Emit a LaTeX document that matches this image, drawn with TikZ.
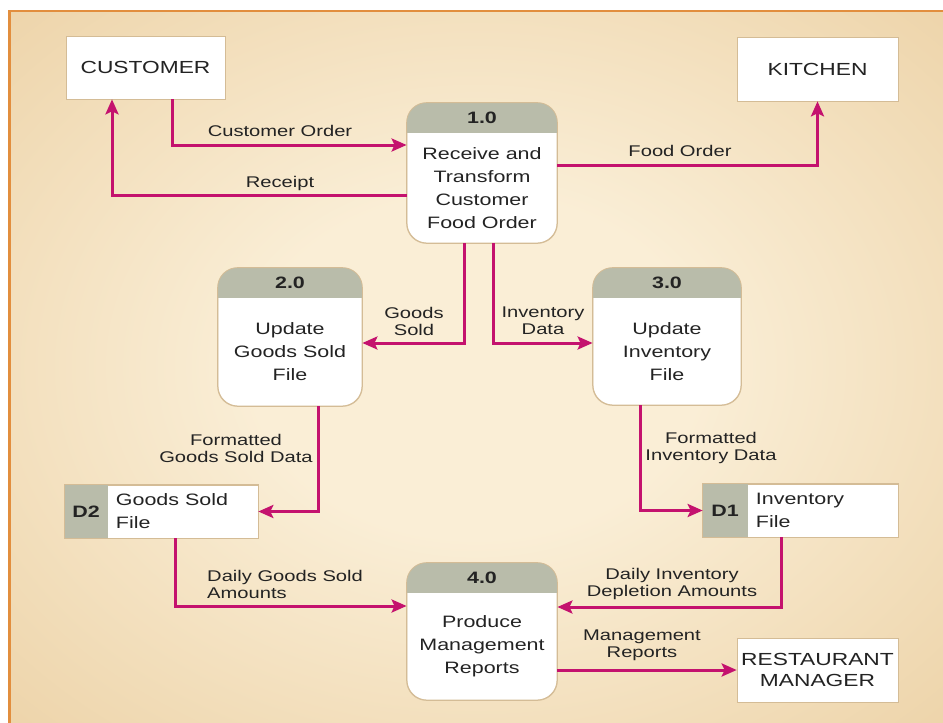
\documentclass[tikz,border=0pt]{standalone}
\usepackage{fontspec}
\setmainfont{Liberation Sans}[FakeStretch=1.3]
\usetikzlibrary{arrows.meta,calc}

\definecolor{flowc}{RGB}{196,18,110}
\definecolor{hdrc}{RGB}{185,188,170}
\definecolor{edgec}{RGB}{212,188,150}
\definecolor{inkc}{RGB}{35,35,35}
\definecolor{bgin}{RGB}{250,238,214}
\definecolor{bgout}{RGB}{227,191,134}
\definecolor{framec}{RGB}{226,142,62}

\pgfdeclareradialshading{bgglow}{\pgfpoint{0bp}{0bp}}{color(0bp)=(bgin); color(12bp)=(bgin); color(55bp)=(bgout); color(75bp)=(bgout)}

\tikzset{
  entity/.style={draw=edgec, line width=0.6pt, fill=white, minimum width=161pt,
    minimum height=64pt, font=\fontsize{17.5}{21}\selectfont, text=inkc,
    align=center, inner sep=0pt},
  procbox/.style={draw=edgec, line width=0.8pt, fill=white, rounded corners=20pt, inner sep=0pt},
  proctext/.style={font=\fontsize{16.5}{23}\selectfont, text=inkc, align=center, inner sep=0pt},
  prochead/.style={font=\bfseries\fontsize{16.5}{20}\selectfont, text=inkc, inner sep=0pt},
  storebox/.style={draw=edgec, line width=0.6pt, fill=white, inner sep=0pt},
  flow/.style={draw=flowc, line width=3pt, -{Stealth[length=15pt,width=13pt,inset=3pt]}},
  lbl/.style={font=\fontsize{15.5}{17}\selectfont, text=inkc, align=center, inner sep=0pt},
}

% process: name, cx, cy, width, height, number, text
\newcommand\dfdproc[7]{%
  \node[procbox, minimum width=#4pt, minimum height=#5pt] (#1) at (#2,#3) {};
  \begin{scope}
    \clip[rounded corners=20pt] (#1.north west) rectangle (#1.south east);
    \fill[hdrc] (#1.north west) rectangle ([yshift=-30pt]#1.north east);
  \end{scope}
  \draw[edgec, line width=0.8pt, rounded corners=20pt] (#1.north west) rectangle (#1.south east);
  \node[prochead] (#1h) at ([yshift=-15pt]#1.north) {#6};
  \node[proctext] (#1t) at ($(#1.south)!0.5!([yshift=-30pt]#1.north)$) {#7};
}

% data store: name, cx, cy, width, height, id cell width, id, text
\newcommand\dfdstore[8]{%
  \node[storebox, minimum width=#4pt, minimum height=#5pt] (#1) at (#2,#3) {};
  \fill[hdrc] (#1.north west) rectangle ([xshift=#6pt]#1.south west);
  \draw[edgec, line width=0.6pt] (#1.north west) rectangle (#1.south east);
  \node[prochead] (#1h) at ($(#1.north west)!0.5!([xshift=#6pt]#1.south west)$) {#7};
  \node[proctext, align=left, anchor=west] (#1t) at ([xshift=#6pt+8pt]#1.west) {#8};
}

\begin{document}
\begin{tikzpicture}[x=1pt, y=-1pt]
  \useasboundingbox (0,0) rectangle (943,723);
  % page and backdrop
  \fill[white] (0,0) rectangle (943,723);
  \shade[shading=bgglow] (8,10) rectangle (943,723);
  \draw[framec, line width=2.5pt] (9.5,723) -- (9.5,11) -- (943,11);

  % external entities
  \node[entity, minimum width=159pt, minimum height=63pt] (cust) at (145.5,67.5) {CUSTOMER};
  \node[entity] (kit) at (817.5,69) {KITCHEN};
  \node[entity] (rm) at (817.5,670) {RESTAURANT\\MANAGER};

  % processes
  \dfdproc{p1}{482}{173}{150}{140}{1.0}{Receive and\\Transform\\Customer\\Food Order}
  \dfdproc{p2}{290}{337}{144}{138}{2.0}{Update\\Goods Sold\\File}
  \dfdproc{p3}{667}{336.5}{148}{137}{3.0}{Update\\Inventory\\File}
  \dfdproc{p4}{482}{631.5}{150}{137}{4.0}{Produce\\Management\\Reports}

  % data stores
  \dfdstore{d2}{161.5}{511.5}{193}{53}{43}{D2}{Goods Sold\\File}
  \dfdstore{d1}{800.5}{510.5}{195}{53}{45}{D1}{Inventory\\File}

  % data flows
  \draw[flow] ([xshift=26.5pt]cust.south) |- ([yshift=28pt]p1.west);
  \draw[flow] ([yshift=-22pt]p1.west) -| ([xshift=-33.5pt]cust.south);
  \draw[flow] ([yshift=8pt]p1.east) -| (kit.south);
  \draw[flow] ([xshift=-18pt]p1.south) |- ([yshift=-6pt]p2.east);
  \draw[flow] ([xshift=11pt]p1.south) |- ([yshift=-6.5pt]p3.west);
  \draw[flow] ([xshift=28pt]p2.south) |- (d2.east);
  \draw[flow] ([xshift=-27pt]p3.south) |- (d1.west);
  \draw[flow] ([xshift=13.5pt]d2.south) |- ([yshift=25.5pt]p4.west);
  \draw[flow] ([xshift=-19.5pt]d1.south) |- ([yshift=24.5pt]p4.east);
  \draw[flow] (p4.east |- rm.west) -- (rm.west);

  % flow labels
  \node[lbl] (l1) at (280,131) {Customer Order};
  \node[lbl] (l2) at (280,183) {Receipt};
  \node[lbl] (l3) at (680,151) {Food Order};
  \node[lbl] (l4) at (414,321) {Goods\\Sold};
  \node[lbl] (l5) at (543,321) {Inventory\\Data};
  \node[lbl] (l6) at (236,448) {Formatted\\Goods Sold Data};
  \node[lbl] (l7) at (711,448) {Formatted\\Inventory Data};
  \node[lbl, align=left, anchor=west] (l8) at (207,584) {Daily Goods Sold\\Amounts};
  \node[lbl] (l9) at (672,584) {Daily Inventory\\Depletion Amounts};
  \node[lbl] (l10) at (642,645) {Management\\Reports};
\end{tikzpicture}
\end{document}
